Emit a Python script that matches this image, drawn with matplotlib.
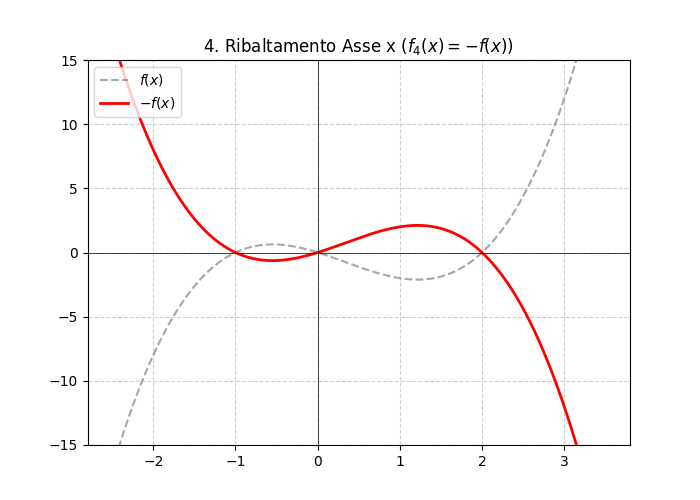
import matplotlib
matplotlib.use("Agg")
import matplotlib.pyplot as plt
import numpy as np

# f(x) = x(x+1)(x-2) = x^3 - x^2 - 2x, roots: -1, 0, 2
coeffs_f = [1, -1, -2, 0]
x_min, x_max = -2.8, 3.8

x = np.linspace(x_min, x_max, 600)
y_f = np.polyval(coeffs_f, x)
y_neg = -y_f

plt.figure(figsize=(7, 5), dpi=100)
plt.plot(x, y_f, "--", color="gray", alpha=0.7, label=r"$f(x)$")
plt.plot(x, y_neg, color="red", linewidth=2, label=r"$-f(x)$")
plt.axhline(0, color="black", linewidth=0.5)
plt.axvline(0, color="black", linewidth=0.5)
plt.xlim(x_min, x_max)
plt.ylim(-15, 15)
plt.grid(True, linestyle="--", alpha=0.6)
plt.title(r"4. Ribaltamento Asse x ($f_4(x) = -f(x)$)")
plt.legend(loc="upper left")
plt.savefig("out.png")
